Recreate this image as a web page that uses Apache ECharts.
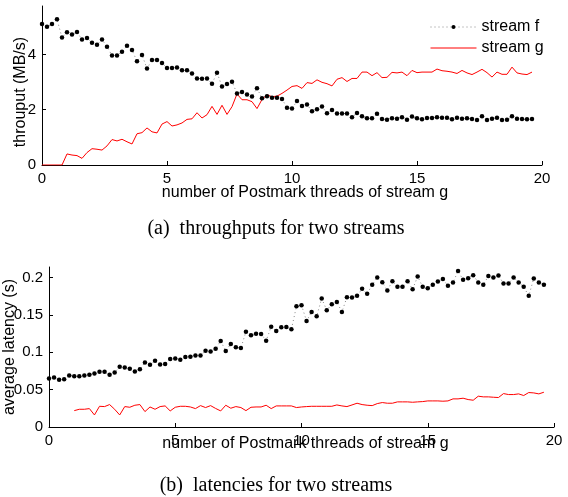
<!DOCTYPE html>
<html>
<head>
<meta charset="utf-8">
<script src="https://cdn.jsdelivr.net/npm/echarts@6/dist/echarts.min.js"></script>
<style>
    html, body { margin: 0; padding: 0; background: #fff; }
    #chart { width: 568px; height: 497px; }
</style>
</head>
<body>
<div id="chart"></div>
<script>
// number of Postmark threads of stream g
const threads = [
    0, 0.2, 0.4, 0.6, 0.8, 1, 1.2, 1.4, 1.6, 1.8,
    2, 2.2, 2.4, 2.6, 2.8, 3, 3.2, 3.4, 3.6, 3.8,
    4, 4.2, 4.4, 4.6, 4.8, 5, 5.2, 5.4, 5.6, 5.8,
    6, 6.2, 6.4, 6.6, 6.8, 7, 7.2, 7.4, 7.6, 7.8,
    8, 8.2, 8.4, 8.6, 8.8, 9, 9.2, 9.4, 9.6, 9.8,
    10, 10.2, 10.4, 10.6, 10.8, 11, 11.2, 11.4, 11.6, 11.8,
    12, 12.2, 12.4, 12.6, 12.8, 13, 13.2, 13.4, 13.6, 13.8,
    14, 14.2, 14.4, 14.6, 14.8, 15, 15.2, 15.4, 15.6, 15.8,
    16, 16.2, 16.4, 16.6, 16.8, 17, 17.2, 17.4, 17.6, 17.8,
    18, 18.2, 18.4, 18.6, 18.8, 19, 19.2, 19.4, 19.6
];

// (a) throughput, MB/s
const thrF = [
    5.10, 5.00, 5.10, 5.27, 4.61, 4.80, 4.72, 4.81, 4.54, 4.59,
    4.42, 4.35, 4.54, 4.28, 3.96, 3.96, 4.10, 4.31, 4.16, 3.75,
    3.98, 3.49, 3.80, 3.80, 3.69, 3.51, 3.51, 3.53, 3.43, 3.43,
    3.31, 3.13, 3.12, 3.13, 2.94, 3.34, 2.84, 2.93, 3.01, 2.59,
    2.64, 2.55, 2.48, 2.78, 2.41, 2.49, 2.43, 2.43, 2.39, 2.07,
    2.04, 2.31, 2.13, 2.19, 1.94, 2.02, 2.12, 1.87, 1.99, 1.86,
    1.86, 1.86, 1.73, 1.88, 1.76, 1.69, 1.69, 1.85, 1.66, 1.64,
    1.69, 1.67, 1.73, 1.64, 1.75, 1.69, 1.65, 1.70, 1.70, 1.73,
    1.71, 1.71, 1.65, 1.71, 1.67, 1.69, 1.66, 1.63, 1.76, 1.63,
    1.67, 1.71, 1.63, 1.64, 1.76, 1.67, 1.66, 1.65, 1.66
];
const thrG = [
    0, 0, 0, 0, 0, 0.40, 0.36, 0.34, 0.24, 0.45,
    0.59, 0.57, 0.54, 0.69, 0.92, 0.87, 0.93, 0.84, 0.76, 1.13,
    1.17, 1.34, 1.20, 1.16, 1.48, 1.57, 1.41, 1.45, 1.52, 1.65,
    1.67, 1.89, 1.70, 1.82, 2.12, 1.83, 2.16, 1.83, 2.11, 2.57,
    2.36, 2.36, 2.29, 2.04, 2.37, 2.54, 2.47, 2.49, 2.59, 2.71,
    2.84, 2.87, 2.77, 2.98, 2.95, 3.08, 2.99, 2.94, 2.86, 3.10,
    3.16, 3.02, 3.13, 3.13, 3.36, 3.36, 3.23, 3.34, 3.16, 3.17,
    3.35, 3.33, 3.36, 3.23, 3.42, 3.34, 3.36, 3.36, 3.36, 3.47,
    3.41, 3.39, 3.36, 3.31, 3.42, 3.33, 3.27, 3.36, 3.46, 3.34,
    3.18, 3.36, 3.28, 3.28, 3.54, 3.33, 3.29, 3.27, 3.36
];

// (b) average latency, s
const latF = [
    0.0649, 0.0662, 0.0631, 0.0640, 0.0689, 0.0680, 0.0680, 0.0689, 0.0698, 0.0716,
    0.0738, 0.0738, 0.0698, 0.0729, 0.0805, 0.0796, 0.0779, 0.0743, 0.0774, 0.0864,
    0.0832, 0.0886, 0.0837, 0.0841, 0.0908, 0.0917, 0.0899, 0.0935, 0.0940, 0.0957,
    0.0957, 0.1020, 0.1011, 0.1047, 0.1150, 0.1016, 0.1110, 0.1065, 0.1056, 0.1275,
    0.1226, 0.1248, 0.1244, 0.1154, 0.1342, 0.1284, 0.1333, 0.1338, 0.1306, 0.1615,
    0.1629, 0.1418, 0.1539, 0.1481, 0.1718, 0.1562, 0.1642, 0.1673, 0.1539, 0.1736,
    0.1732, 0.1754, 0.1848, 0.1781, 0.1902, 0.2000, 0.1937, 0.1826, 0.1951, 0.1875,
    0.1875, 0.1951, 0.1843, 0.2013, 0.1875, 0.1857, 0.1902, 0.1946, 0.1978, 0.1888,
    0.1933, 0.2085, 0.1969, 0.1991, 0.2031, 0.1933, 0.1902, 0.2018, 0.2000, 0.2027,
    0.1919, 0.1919, 0.2000, 0.1933, 0.1875, 0.1754, 0.1987, 0.1933, 0.1902
];
const latG = [
    null, null, null, null, null, 0.0219, 0.0237, 0.0237, 0.0246, 0.0161,
    0.0277, 0.0273, 0.0300, 0.0237, 0.0161, 0.0273, 0.0264, 0.0291, 0.0300, 0.0206,
    0.0268, 0.0237, 0.0273, 0.0282, 0.0215, 0.0264, 0.0277, 0.0277, 0.0268, 0.0246,
    0.0286, 0.0260, 0.0286, 0.0248, 0.0215, 0.0291, 0.0251, 0.0273, 0.0260, 0.0219,
    0.0264, 0.0268, 0.0268, 0.0291, 0.0246, 0.0282, 0.0282, 0.0282, 0.0282, 0.0260,
    0.0268, 0.0273, 0.0277, 0.0277, 0.0277, 0.0277, 0.0277, 0.0295, 0.0282, 0.0273,
    0.0295, 0.0318, 0.0300, 0.0291, 0.0286, 0.0313, 0.0327, 0.0318, 0.0318, 0.0336,
    0.0336, 0.0336, 0.0331, 0.0336, 0.0340, 0.0349, 0.0349, 0.0349, 0.0345, 0.0349,
    0.0376, 0.0376, 0.0385, 0.0367, 0.0358, 0.0412, 0.0403, 0.0403, 0.0398, 0.0394,
    0.0447, 0.0434, 0.0434, 0.0443, 0.0421, 0.0461, 0.0456, 0.0443, 0.0465
];

const thrTicks = [0, 2, 4];
const latTicks = [0, 0.05, 0.1, 0.15, 0.2];

const sans = "'Liberation Sans', Arial, sans-serif";
const serif = "'Liberation Serif', 'Times New Roman', serif";

function pairs(ys) {
    return threads.map((x, i) => [x, ys[i]]);
}

function xAxisOf(gridIndex) {
    return {
        gridIndex: gridIndex,
        type: "value",
        min: 0,
        max: 20,
        interval: 5,
        axisLine: { lineStyle: { color: "#000", width: 1 } },
        axisTick: { inside: true, length: 4, lineStyle: { color: "#000" } },
        axisLabel: { color: "#000", fontSize: 15, fontFamily: sans, margin: 6 },
        splitLine: { show: false },
    };
}

function yAxisOf(gridIndex, max, ticks) {
    return {
        gridIndex: gridIndex,
        type: "value",
        min: 0,
        max: max,
        axisLine: { show: true, lineStyle: { color: "#000", width: 1 } },
        axisTick: { show: true, inside: true, length: 4, customValues: ticks, lineStyle: { color: "#000" } },
        axisLabel: { color: "#000", fontSize: 15, fontFamily: sans, margin: 6, customValues: ticks },
        splitLine: { show: false },
    };
}

const streamF = {
    type: "line",
    name: "stream f",
    symbol: "circle",
    symbolSize: 4.5,
    showSymbol: true,
    itemStyle: { color: "#000" },
    lineStyle: { color: "#888", width: 1, type: [1, 3] },
};
const streamG = {
    type: "line",
    name: "stream g",
    showSymbol: false,
    symbol: "circle",
    symbolSize: 0,
    itemStyle: { color: "#ff0000" },
    lineStyle: { color: "#ff0000", width: 1 },
};

function label(text, x, y, font, rotate) {
    return {
        type: "text",
        x: x,
        y: y,
        rotation: rotate ? Math.PI / 2 : 0,
        style: {
            text: text,
            font: font,
            fill: "#000",
            textAlign: "center",
            textVerticalAlign: "middle",
        },
    };
}

const chart = echarts.init(document.getElementById("chart"), null, { renderer: "canvas" });
chart.setOption({
    animation: false,
    backgroundColor: "#fff",
    grid: [
        { left: 42, top: 6, width: 500, height: 159 },
        { left: 49, top: 267, width: 505, height: 160 },
    ],
    xAxis: [xAxisOf(0), xAxisOf(1)],
    yAxis: [yAxisOf(0, 5.75, thrTicks), yAxisOf(1, 0.214, latTicks)],
    legend: {
        orient: "vertical",
        left: 425,
        top: 14,
        itemWidth: 46,
        itemHeight: 5,
        itemGap: 5,
        lineStyle: { width: 1 },
        textStyle: { color: "#000", fontSize: 16, fontFamily: sans },
        data: [
            { name: "stream f" },
            { name: "stream g", itemStyle: { opacity: 0 } },
        ],
    },
    series: [
        Object.assign({}, streamF, { xAxisIndex: 0, yAxisIndex: 0, data: pairs(thrF) }),
        Object.assign({}, streamG, { xAxisIndex: 0, yAxisIndex: 0, data: pairs(thrG) }),
        Object.assign({}, streamF, { xAxisIndex: 1, yAxisIndex: 1, data: pairs(latF) }),
        Object.assign({}, streamG, { xAxisIndex: 1, yAxisIndex: 1, data: pairs(latG) }),
    ],
    graphic: [
        label("number of Postmark threads of stream g", 305, 192.5, "16px " + sans),
        label("throuput (MB/s)", 21, 92, "16px " + sans, true),
        label("(a)  throughputs for two streams", 276, 228.5, "20px " + serif),
        label("number of Postmark threads of stream g", 305.5, 443.8, "16px " + sans),
        label("average latency (s)", 9.5, 347, "16px " + sans, true),
        label("(b)  latencies for two streams", 276, 486, "20px " + serif),
    ],
});
</script>
</body>
</html>
